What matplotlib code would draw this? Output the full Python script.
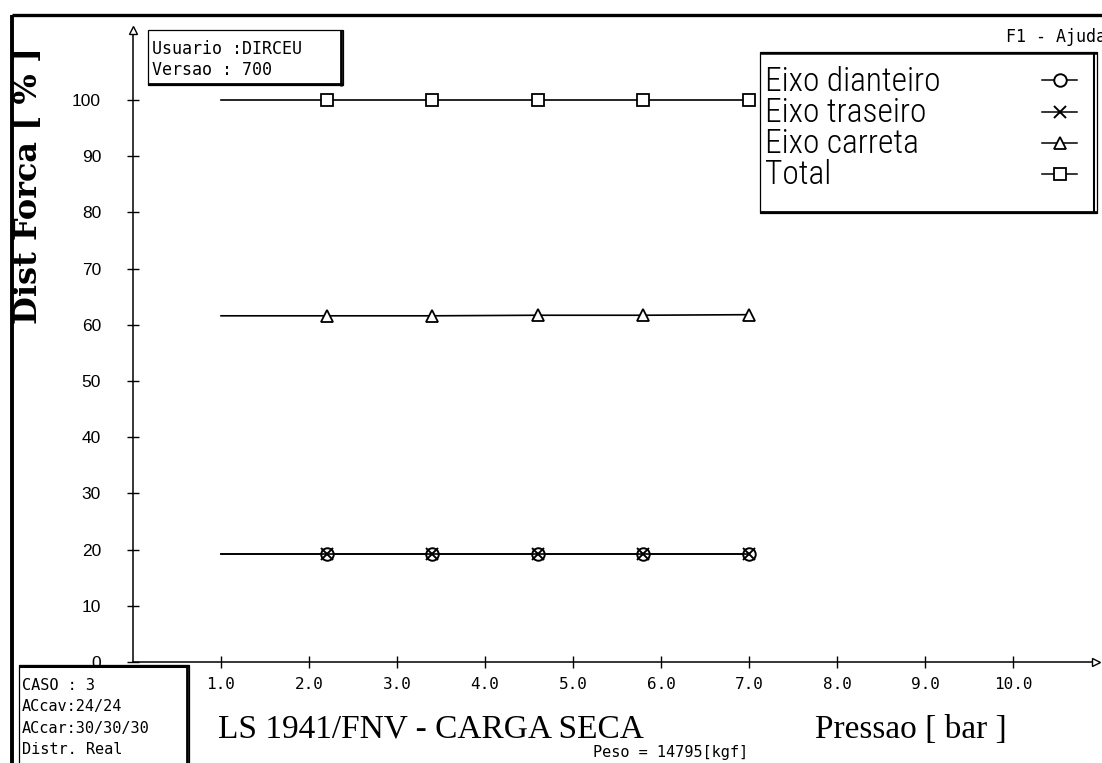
import matplotlib
matplotlib.use('Agg')
import matplotlib.pyplot as plt
from matplotlib.lines import Line2D
from matplotlib.patches import Rectangle
from matplotlib import font_manager

# ---------------- data ----------------
pressure = [1.0, 2.2, 3.4, 4.6, 5.8, 7.0]
eixo_dianteiro = [19.2, 19.2, 19.2, 19.2, 19.2, 19.2]
eixo_traseiro = [19.2, 19.2, 19.2, 19.2, 19.2, 19.2]
eixo_carreta = [61.6, 61.6, 61.6, 61.7, 61.7, 61.8]
total = [100.0, 100.0, 100.0, 100.0, 100.0, 100.0]
series_labels = ['Eixo dianteiro', 'Eixo traseiro', 'Eixo carreta', 'Total']

x_ticks = [1.0, 2.0, 3.0, 4.0, 5.0, 6.0, 7.0, 8.0, 9.0, 10.0]
x_tick_labels = ['1.0', '2.0', '3.0', '4.0', '5.0', '6.0', '7.0', '8.0', '9.0', '10.0']
y_ticks = [0, 10, 20, 30, 40, 50, 60, 70, 80, 90, 100]
y_tick_labels = ['0', '10', '20', '30', '40', '50', '60', '70', '80', '90', '100']

title_text = 'LS 1941/FNV - CARGA SECA'
xlabel_text = 'Pressao [ bar ]'
ylabel_text = 'Dist Forca [ % ]'
peso_text = 'Peso = 14795[kgf]'
user_lines = ['Usuario :DIRCEU', 'Versao : 700']
case_lines = ['CASO : 3', 'ACcav:24/24', 'ACcar:30/30/30', 'Distr. Real']
help_text = 'F1 - Ajuda'

# ---------------- fonts ----------------
ttf = font_manager.fontManager.ttflist
available = {f.name for f in ttf}
narrow_family = None
for n in ['Liberation Sans Narrow', 'Roboto Condensed', 'Open Sans Condensed']:
    if n in available:
        narrow_family = n
        break
dejavu_cond = any(f.name == 'DejaVu Sans' and str(f.stretch) in ('condensed', 'semi-condensed', '87.5', '75') for f in ttf)
if narrow_family:
    legend_font = dict(family=narrow_family, size=24, weight='light')
elif dejavu_cond:
    legend_font = dict(family='DejaVu Sans', stretch='condensed', size=23)
else:
    legend_font = dict(family='DejaVu Sans', size=21)
mono = 'DejaVu Sans Mono'
serif = 'Liberation Serif' if 'Liberation Serif' in available else 'DejaVu Serif'
sans = 'Liberation Sans' if 'Liberation Sans' in available else 'DejaVu Sans'

# ---------------- figure ----------------
W, H = 1102, 763
fig = plt.figure(figsize=(W / 100, H / 100), dpi=100)
fig.patch.set_facecolor('white')


def fx(x):
    return x / W


def fy(y):
    return 1 - y / H


def pline(x0, y0, x1, y1, lw=1.0, z=6):
    fig.add_artist(Line2D([fx(x0), fx(x1)], [fy(y0), fy(y1)], transform=fig.transFigure,
                          color='black', lw=lw, zorder=z, solid_capstyle='butt'))


def pbox(x0, y0, x1, y1, z=5):
    fig.add_artist(Rectangle((fx(x0), fy(y1)), fx(x1) - fx(x0), fy(y0) - fy(y1),
                             transform=fig.transFigure, facecolor='white',
                             edgecolor='black', lw=0.9, zorder=z))


x0px, x1px = 133, 1096
y0px, y1px = 662, 30
px_per_x = 88.0
px_per_y = 5.62
ax = fig.add_axes([fx(x0px), fy(y0px), (x1px - x0px) / W, (y0px - y1px) / H])
ax.set_xlim(0, (x1px - x0px) / px_per_x)
ax.set_ylim(0, (y0px - y1px) / px_per_y)
ax.patch.set_alpha(0)
for s in ['top', 'right']:
    ax.spines[s].set_visible(False)
for s in ['left', 'bottom']:
    ax.spines[s].set_linewidth(1.1)

ax.set_xticks(x_ticks)
ax.set_xticklabels(x_tick_labels, family=mono, fontsize=11.5)
ax.set_yticks(y_ticks)
ax.set_yticklabels(y_tick_labels, family=sans, fontsize=12.5)
ax.tick_params(axis='both', direction='inout', length=8, width=1.0, color='black')
ax.tick_params(axis='y', pad=19)
ax.tick_params(axis='x', pad=7)

# axis arrowheads
ax.plot([0], [1], marker='^', ms=6, mfc='white', mec='black', mew=1.0,
        transform=ax.transAxes, clip_on=False, zorder=7)
ax.plot([1], [0], marker='>', ms=6, mfc='white', mec='black', mew=1.0,
        transform=ax.transAxes, clip_on=False, zorder=7)

styles = {
    'Eixo dianteiro': dict(marker='o', ms=9, mfc='white', mec='black', mew=1.4),
    'Eixo traseiro': dict(marker='x', ms=8, mec='black', mew=1.4),
    'Eixo carreta': dict(marker='^', ms=9, mfc='white', mec='black', mew=1.3),
    'Total': dict(marker='s', ms=9, mfc='white', mec='black', mew=1.3),
}
series = [eixo_dianteiro, eixo_traseiro, eixo_carreta, total]
for lab, vals in zip(series_labels, series):
    ax.plot(pressure, vals, color='black', lw=1.2, markevery=slice(1, None),
            clip_on=False, zorder=3, **styles[lab])

# ---------------- outer frame ----------------
pline(12, 15, W, 15, lw=2.4)
pline(12, 15, 12, H, lw=2.8)

# ---------------- y label ----------------
fig.text(fx(29), fy(185), ylabel_text, rotation=90, ha='center', va='center',
         family='DejaVu Serif', weight='bold', fontsize=23)

# ---------------- user box ----------------
pbox(148, 30, 343, 85)
pline(341, 30, 341, 86, lw=2.0)
pline(148, 84, 343, 84, lw=2.0)
fig.text(fx(152), fy(49), user_lines[0], family=mono, fontsize=12, va='center', ha='left', zorder=8)
fig.text(fx(152), fy(70), user_lines[1], family=mono, fontsize=12, va='center', ha='left', zorder=8)

# help text
fig.text(fx(1006), fy(37), help_text, family=mono, fontsize=12, va='center', ha='left')

# ---------------- legend ----------------
pbox(760, 52, 1097, 213)
pline(760, 53, 1097, 53, lw=1.8)
pline(1094, 52, 1094, 213, lw=1.5)
pline(760, 212, 1097, 212, lw=2.0)
row_marker_y = [80, 112, 143, 174]
row_base_y = [91, 122, 153, 184]
for lab, my, by in zip(series_labels, row_marker_y, row_base_y):
    fig.text(fx(765), fy(by), lab, va='baseline', ha='left', zorder=8, **legend_font)
    st = dict(styles[lab])
    fig.add_artist(Line2D([fx(1042), fx(1059.5), fx(1077)], [fy(my)] * 3,
                          transform=fig.transFigure, color='black', lw=1.1,
                          markevery=[1], zorder=8, **st))

# ---------------- case box ----------------
pbox(19, 665, 189, H + 5)
pline(19, 665.5, 189, 665.5, lw=2.2)
pline(187, 665, 187, H, lw=2.0)
for txt, yy in zip(case_lines, [685, 707, 728, 749]):
    fig.text(fx(22), fy(yy), txt, family=mono, fontsize=11, va='center', ha='left', zorder=8)

# ---------------- bottom titles ----------------
fig.text(fx(218), fy(738), title_text, family=serif, fontsize=24, va='baseline', ha='left')
fig.text(fx(815), fy(738), xlabel_text, family=serif, fontsize=24, va='baseline', ha='left')
fig.text(fx(593), fy(752), peso_text, family=mono, fontsize=11, va='center', ha='left')

fig.savefig('out.png', dpi=100, facecolor='white')
